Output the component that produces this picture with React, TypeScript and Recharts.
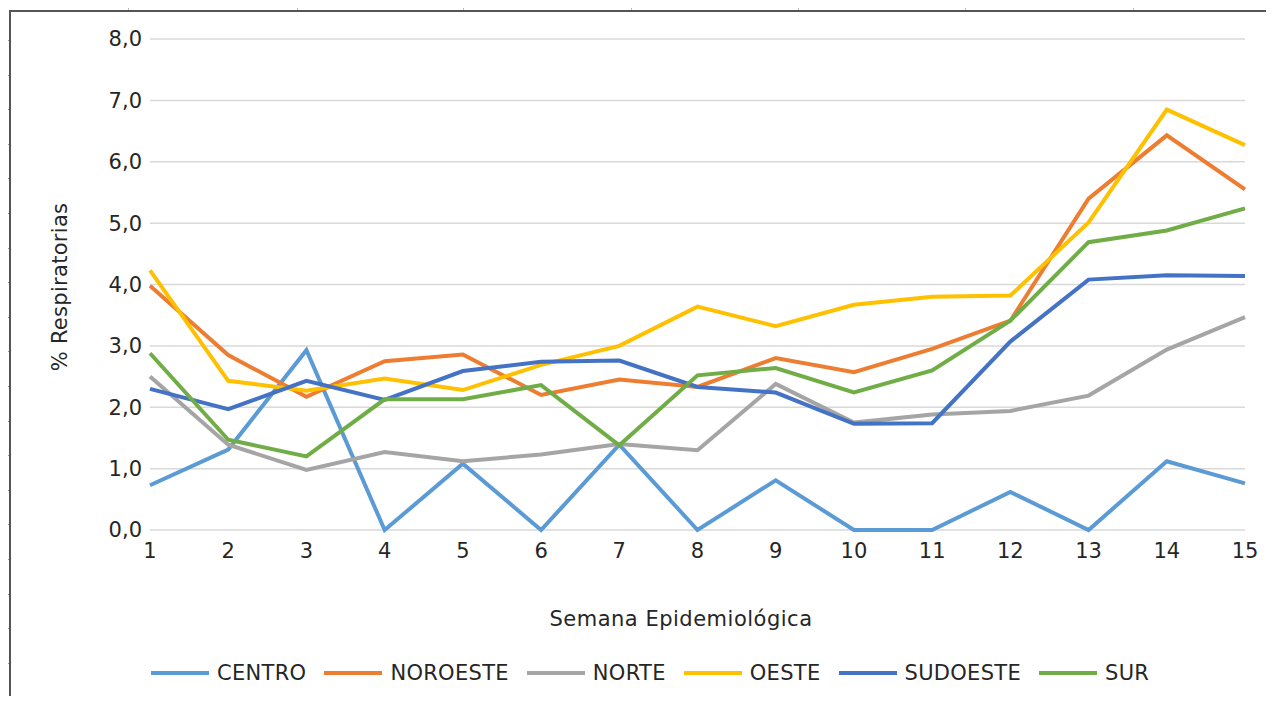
import { CartesianGrid, Label, Line, LineChart, XAxis, YAxis } from "recharts";

const weeks = ["1", "2", "3", "4", "5", "6", "7", "8", "9", "10", "11", "12", "13", "14", "15"];

const centro = [0.73, 1.31, 2.93, 0, 1.08, 0, 1.39, 0, 0.81, 0, 0, 0.62, 0, 1.12, 0.76];
const noroeste = [3.98, 2.85, 2.17, 2.75, 2.86, 2.2, 2.45, 2.33, 2.8, 2.57, 2.95, 3.41, 5.4, 6.43, 5.55];
const norte = [2.5, 1.39, 0.98, 1.27, 1.12, 1.23, 1.4, 1.3, 2.38, 1.75, 1.88, 1.94, 2.19, 2.94, 3.47];
const oeste = [4.23, 2.43, 2.27, 2.47, 2.28, 2.69, 3.0, 3.64, 3.32, 3.67, 3.8, 3.82, 5.01, 6.85, 6.27];
const sudoeste = [2.3, 1.97, 2.43, 2.12, 2.59, 2.74, 2.76, 2.33, 2.24, 1.73, 1.74, 3.07, 4.08, 4.15, 4.14];
const sur = [2.88, 1.47, 1.2, 2.13, 2.13, 2.36, 1.38, 2.52, 2.64, 2.24, 2.6, 3.41, 4.69, 4.88, 5.24];

const yTicks = [0, 1, 2, 3, 4, 5, 6, 7, 8];

const series = [
  { key: "CENTRO", values: centro, color: "#5B9BD5" },
  { key: "NOROESTE", values: noroeste, color: "#ED7D31" },
  { key: "NORTE", values: norte, color: "#A5A5A5" },
  { key: "OESTE", values: oeste, color: "#FFC000" },
  { key: "SUDOESTE", values: sudoeste, color: "#4472C4" },
  { key: "SUR", values: sur, color: "#70AD47" },
];

const data = weeks.map((w, i) => {
  const row: Record<string, string | number> = { week: w };
  series.forEach((s) => {
    row[s.key] = s.values[i];
  });
  return row;
});

const FONT = "'DejaVu Sans', sans-serif";
const INK = "#262626";

// ruler marks of the sheet frame (decoration only)
const topMarks = [128, 297, 463, 631, 798, 965, 1133];
const leftMarks = Array.from({ length: 20 }, (_, i) => 40 + i * 34.6);

function fmt(v: number): string {
  return v.toFixed(1).replace(".", ",");
}

export default function App() {
  return (
    <div
      style={{
        position: "relative",
        width: 1274,
        height: 704,
        margin: -8,
        background: "#fff",
        overflow: "hidden",
        fontFamily: FONT,
      }}
    >
      {/* sheet frame */}
      <div style={{ position: "absolute", left: 9, top: 10, right: 0, height: 2, background: "#555" }} />
      <div style={{ position: "absolute", left: 9, top: 10, width: 2, bottom: 0, background: "#555" }} />
      {topMarks.map((x) => (
        <div key={x} style={{ position: "absolute", left: x, top: 4, width: 1, height: 6, background: "#bbb" }} />
      ))}
      {leftMarks.map((y) => (
        <div key={y} style={{ position: "absolute", left: 3, top: y, width: 6, height: 1, background: "#999" }} />
      ))}

      <div style={{ position: "absolute", left: 0, top: 0 }}>
        <LineChart
          width={1274}
          height={704}
          data={data}
          margin={{ top: 39, right: 29, left: 0, bottom: 0 }}
        >
          <CartesianGrid vertical={false} stroke="#d9d9d9" strokeWidth={1.5} />
          <XAxis
            dataKey="week"
            axisLine={false}
            tickLine={false}
            height={174}
            tick={{ fill: INK, fontSize: 21, fontFamily: FONT, dy: 5 }}
            interval={0}
          >
            <Label
              content={() => (
                <text
                  x={681}
                  y={626}
                  textAnchor="middle"
                  fill={INK}
                  fontSize={21}
                  fontFamily={FONT}
                  letterSpacing={0.5}
                >
                  Semana Epidemiológica
                </text>
              )}
            />
          </XAxis>
          <YAxis
            domain={[0, 8]}
            ticks={yTicks}
            tickFormatter={fmt}
            axisLine={false}
            tickLine={false}
            width={150}
            tick={{ fill: INK, fontSize: 21, fontFamily: FONT }}
          >
            <Label
              content={() => (
                <text
                  x={0}
                  y={0}
                  transform="translate(67, 287) rotate(-90)"
                  textAnchor="middle"
                  fill={INK}
                  fontSize={21}
                  fontFamily={FONT}
                  letterSpacing={0.3}
                >
                  % Respiratorias
                </text>
              )}
            />
          </YAxis>
          {series.map((s) => (
            <Line
              key={s.key}
              type="linear"
              dataKey={s.key}
              stroke={s.color}
              strokeWidth={4}
              dot={false}
              activeDot={false}
              isAnimationActive={false}
            />
          ))}
        </LineChart>
      </div>

      {/* legend */}
      <div
        style={{
          position: "absolute",
          left: 151,
          top: 661,
          display: "flex",
          alignItems: "center",
          gap: 18,
          fontSize: 21,
          color: INK,
          letterSpacing: 0.3,
          whiteSpace: "nowrap",
        }}
      >
        {series.map((s) => (
          <div key={s.key} style={{ display: "flex", alignItems: "center", gap: 8 }}>
            <div style={{ width: 58, height: 4, background: s.color }} />
            <span>{s.key}</span>
          </div>
        ))}
      </div>
    </div>
  );
}
